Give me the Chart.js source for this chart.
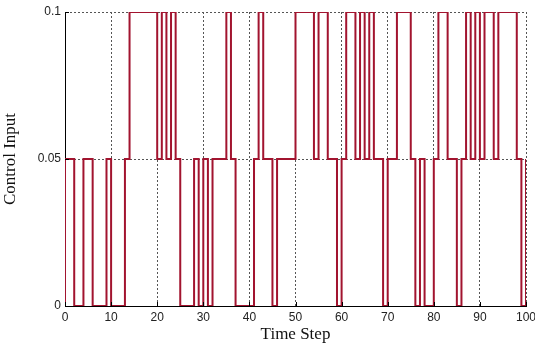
<!DOCTYPE html>
<html>
<head>
<meta charset="utf-8">
<script src="https://cdn.jsdelivr.net/npm/chart.js@4/dist/chart.umd.min.js"></script>
<style>
  html, body { margin: 0; padding: 0; background: #fff; }
  #wrap { width: 535px; height: 343px; }
</style>
</head>
<body>
<div id="wrap"><canvas id="chart"></canvas></div>
<script>
// control input held over each time step (stairs), steps 0..100
const timeSteps = Array.from({ length: 101 }, (_, i) => i);
const controlInput = [
    0.05, 0.05, 0, 0, 0.05, 0.05, 0, 0, 0, 0.05,
    0, 0, 0, 0.05, 0.1, 0.1, 0.1, 0.1, 0.1, 0.1,
    0.05, 0.1, 0.05, 0.1, 0.05, 0, 0, 0, 0.05, 0,
    0.05, 0, 0.05, 0.05, 0.05, 0.1, 0.05, 0, 0, 0,
    0, 0.05, 0.1, 0.05, 0.05, 0, 0.05, 0.05, 0.05, 0.05,
    0.1, 0.1, 0.1, 0.1, 0.05, 0.1, 0.1, 0.05, 0.05, 0,
    0.05, 0.1, 0.1, 0.05, 0.1, 0.05, 0.1, 0.05, 0.05, 0,
    0.05, 0.05, 0.1, 0.1, 0.1, 0.05, 0, 0.05, 0, 0,
    0.05, 0.1, 0.1, 0.05, 0.05, 0, 0.05, 0.1, 0.05, 0.1,
    0.05, 0.1, 0.1, 0.05, 0.1, 0.1, 0.1, 0.1, 0.05, 0,
    0.05
];
const initialInput = 0;
const xTicks = [0, 10, 20, 30, 40, 50, 60, 70, 80, 90, 100];
const yTicks = [0, 0.05, 0.1];

const points = [{ x: timeSteps[0], y: initialInput }]
    .concat(timeSteps.map((t, i) => ({ x: t, y: controlInput[i] })));

// small inward tick marks like the original axes
const innerTicks = {
    id: 'innerTicks',
    afterDatasetsDraw(chart) {
        const { ctx, chartArea, scales } = chart;
        ctx.save();
        ctx.strokeStyle = '#000';
        ctx.lineWidth = 1;
        ctx.beginPath();
        xTicks.forEach(v => {
            const px = Math.round(scales.x.getPixelForValue(v)) + 0.5;
            ctx.moveTo(px, chartArea.bottom);
            ctx.lineTo(px, chartArea.bottom - 4);
        });
        yTicks.forEach(v => {
            const py = Math.round(scales.y.getPixelForValue(v)) + 0.5;
            ctx.moveTo(chartArea.left, py);
            ctx.lineTo(chartArea.left + 4, py);
        });
        ctx.stroke();
        ctx.restore();
    }
};

new Chart(document.getElementById('chart'), {
    type: 'line',
    data: {
        datasets: [{
            data: points,
            stepped: true,
            borderColor: 'rgb(162, 20, 47)',
            borderWidth: 2,
            pointRadius: 0,
            fill: false
        }]
    },
    options: {
        responsive: true,
        maintainAspectRatio: false,
        animation: false,
        layout: { padding: { left: 0, right: 0, top: 12, bottom: 0 } },
        plugins: {
            legend: { display: false },
            tooltip: { enabled: false }
        },
        scales: {
            x: {
                type: 'linear',
                min: 0,
                max: 100,
                afterBuildTicks: s => { s.ticks = xTicks.map(v => ({ value: v })); },
                afterFit: s => { s.height = 37; s.paddingLeft = 0; s.paddingRight = 9; },
                ticks: {
                    color: '#222',
                    font: { family: 'Liberation Sans', size: 12 },
                    padding: 4,
                    maxRotation: 0
                },
                grid: { color: '#555', drawTicks: false, lineWidth: 1 },
                border: { color: '#000', width: 1, dash: [2, 2] },
                title: {
                    display: true,
                    text: 'Time Step',
                    color: '#111',
                    font: { family: 'Liberation Serif', size: 17 },
                    padding: { top: 0, bottom: -2 }
                }
            },
            y: {
                min: 0,
                max: 0.1,
                afterBuildTicks: s => { s.ticks = yTicks.map(v => ({ value: v })); },
                afterFit: s => { s.width = 65; },
                ticks: {
                    color: '#222',
                    font: { family: 'Liberation Sans', size: 12 },
                    padding: 4,
                    callback: v => String(v)
                },
                grid: { color: '#555', drawTicks: false, lineWidth: 1 },
                border: { color: '#000', width: 1, dash: [2, 2] },
                title: {
                    display: true,
                    text: 'Control Input',
                    color: '#111',
                    font: { family: 'Liberation Serif', size: 17 },
                    padding: { top: 0, bottom: 0 }
                }
            }
        }
    },
    plugins: [innerTicks]
});
</script>
</body>
</html>
